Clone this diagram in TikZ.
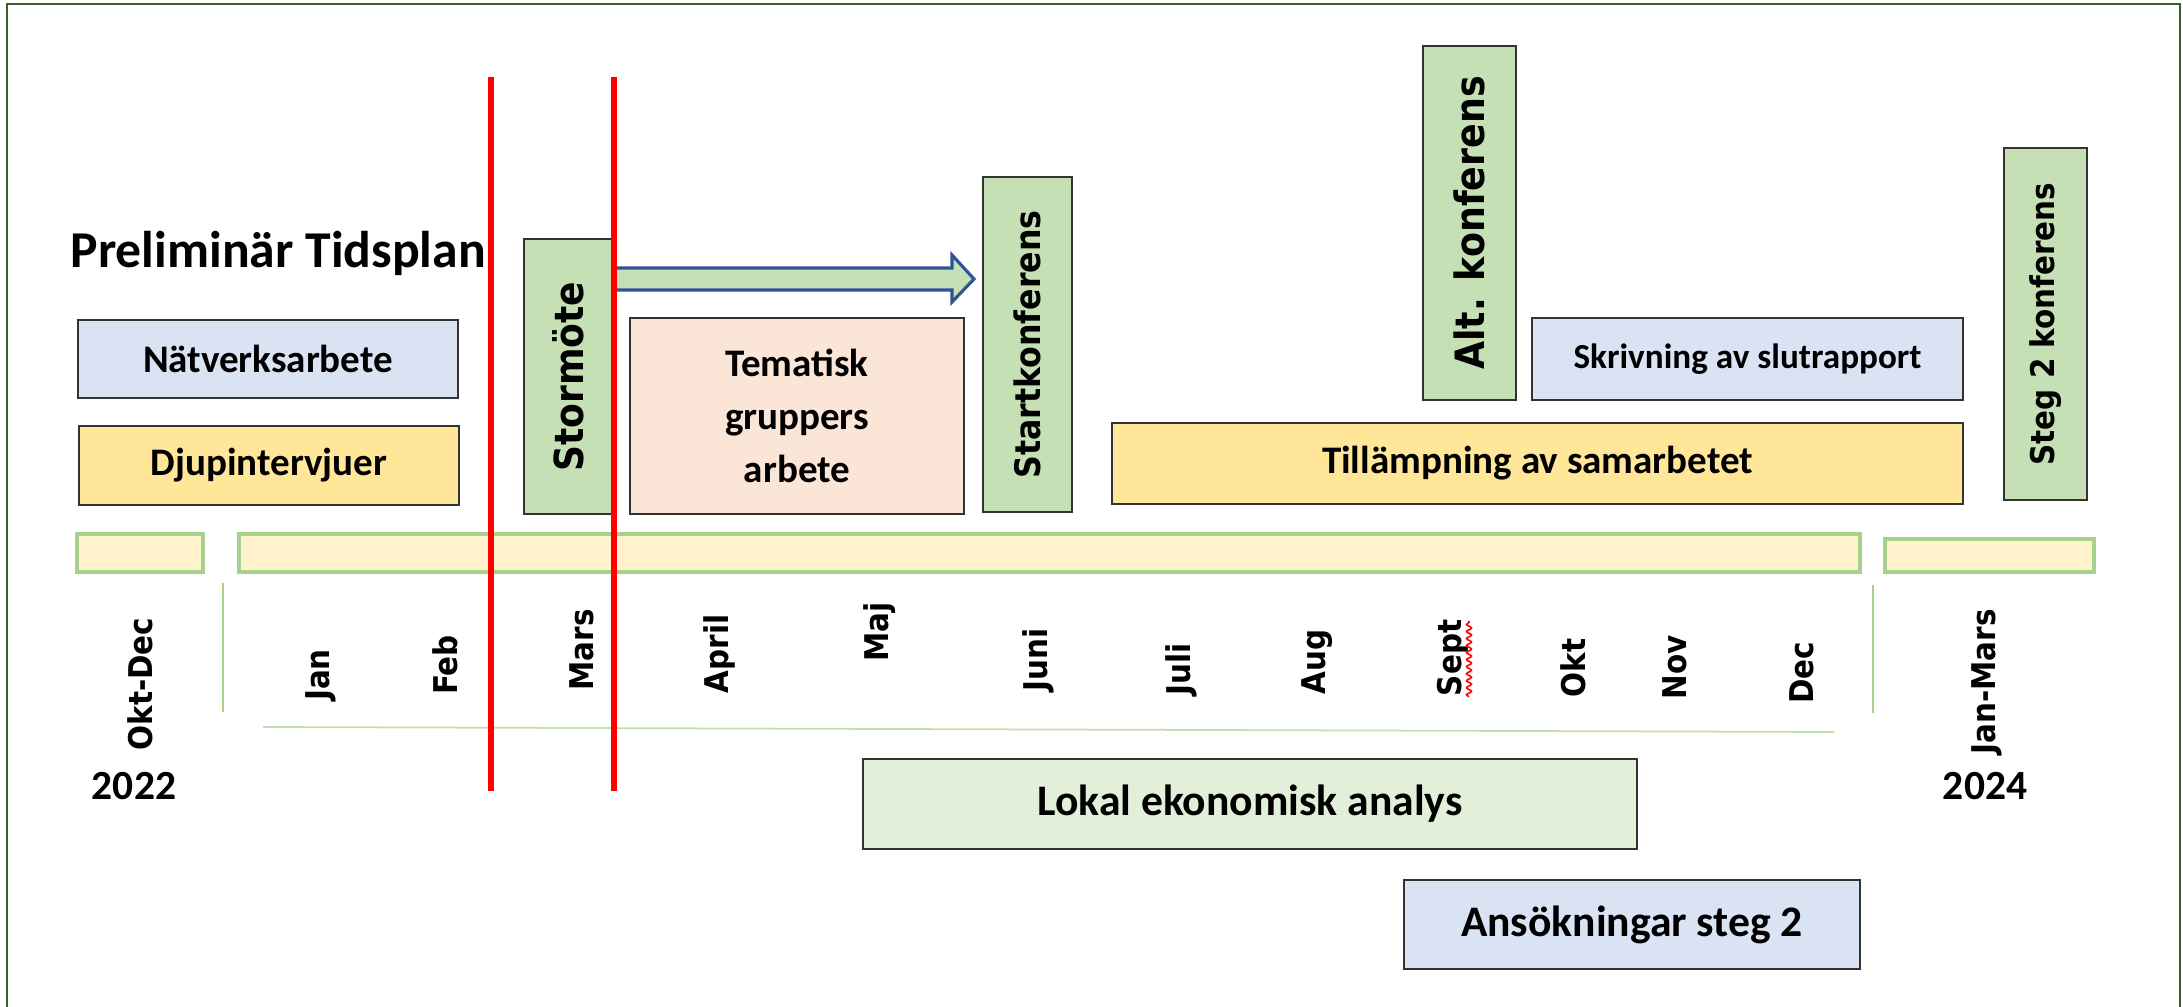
\documentclass[tikz,border=0pt]{standalone}
\usepackage{fontspec}
\setmainfont{Carlito}
\newfontfamily\verd{DejaVu Sans Condensed Bold}
\usetikzlibrary{calc,decorations.pathmorphing}

\definecolor{blaa}{HTML}{DAE3F3}
\definecolor{gul}{HTML}{FFE699}
\definecolor{gron}{HTML}{C5E0B4}
\definecolor{ljusgron}{HTML}{E2F0D9}
\definecolor{rosa}{HTML}{FBE5D6}
\definecolor{stapelfarg}{HTML}{FFF2CC}
\definecolor{stapelkant}{HTML}{A9D18E}
\definecolor{pilkant}{HTML}{2F5597}
\definecolor{ram}{HTML}{3B5E2B}

\tikzset{
  ruta/.style={draw=black!80, line width=0.6pt, inner sep=0pt, align=center,
    font=\bfseries\fontsize{11.1}{15}\selectfont},
  staende/.style={ruta, rotate=90},
  stapel/.style={draw=stapelkant, fill=stapelfarg, line width=1.1pt},
  tunn/.style={draw=stapelkant, line width=0.5pt},
  manad/.style={rotate=90, inner sep=0pt, font=\verd\fontsize{9.3}{11}\selectfont},
  ar/.style={inner sep=0pt, font=\bfseries\fontsize{11.8}{13}\selectfont},
  pil/.style={fill=gron, draw=pilkant, line width=0.9pt}
}

\begin{document}
\begin{tikzpicture}[x=0.01cm, y=-0.01cm]
\useasboundingbox (0,0) rectangle (2183,1007);

% Ram runt allt
\draw[ram, line width=0.7pt] (7,1007) -- (7,4) -- (2180,4) -- (2180,1007);

% Rubrik
\node[anchor=base west, inner sep=0pt, font=\bfseries\fontsize{14.7}{17}\selectfont] (rubrik) at (70,268) {Preliminär Tidsplan};

% Tidsaxel (staplar)
\filldraw[stapel] (77,534) rectangle (203,572);
\filldraw[stapel] (239,534) rectangle (1860,572);
\filldraw[stapel] (1885,539) rectangle (2094,572);

\draw[tunn] (223,583) -- (223,712);
\draw[tunn] (1873,585) -- (1873,713);
\draw[tunn, draw=gron!90!stapelkant] (263,727) -- (1834,732);

% Aktiviteter
\node[ruta, fill=blaa, minimum width=3.8cm, minimum height=0.78cm] (natverk) at (268,359) {Nätverksarbete};
\node[ruta, fill=gul, minimum width=3.8cm, minimum height=0.79cm] (djup) at (269,465.5) {Djupintervjuer};
\node[staende, fill=gron, minimum width=2.75cm, minimum height=0.88cm, font=\verd\fontsize{11.4}{13}\selectfont] (stormote) at (568,376.5) {Stormöte};
\node[ruta, fill=rosa, minimum width=3.34cm, minimum height=1.96cm] (tematisk) at (797,416) {Tematisk\\gruppers\\arbete};
\node[staende, fill=gron, minimum width=3.35cm, minimum height=0.89cm, font=\verd\fontsize{10}{12}\selectfont] (startk) at (1027.5,344.5) {Startkonferens};
\node[ruta, fill=gul, minimum width=8.51cm, minimum height=0.81cm] (tillamp) at (1537.5,463.5) {Tillämpning av samarbetet};
\node[staende, fill=gron, minimum width=3.54cm, minimum height=0.93cm, font=\verd\fontsize{11.5}{13}\selectfont] (altk) at (1469.5,223) {Alt. konferens};
\node[ruta, fill=blaa, minimum width=4.31cm, minimum height=0.82cm, font=\bfseries\fontsize{10}{12}\selectfont] (skrivning) at (1747.5,359) {Skrivning av slutrapport};
\node[staende, fill=gron, minimum width=3.52cm, minimum height=0.83cm, font=\verd\fontsize{9.3}{11}\selectfont] (steg2k) at (2045.5,324) {Steg 2 konferens};
\node[ruta, fill=ljusgron, minimum width=7.74cm, minimum height=0.9cm, font=\bfseries\fontsize{12.4}{14}\selectfont] (lokal) at (1250,804) {Lokal ekonomisk analys};
\node[ruta, fill=blaa, minimum width=4.56cm, minimum height=0.89cm, font=\bfseries\fontsize{12.4}{14}\selectfont] (ansok) at (1632,924.5) {Ansökningar steg 2};

% Pil fran stormotet till startkonferensen
\coordinate (pilstart) at (615,279);
\coordinate (pilspets) at (974,279);
\filldraw[pil] ($(pilstart)+(0,-11)$) -- ($(pilspets)+(-22,-11)$) -- ($(pilspets)+(-22,-24)$) -- (pilspets)
  -- ($(pilspets)+(-22,23)$) -- ($(pilspets)+(-22,11)$) -- ($(pilstart)+(0,11)$) -- cycle;

% Manader
\node[manad] (okt-dec) at (140,684) {Okt-Dec};
\node[manad] (jan) at (321,675) {Jan};
\node[manad] (feb) at (445,665) {Feb};
\node[manad] (mars) at (582,650) {Mars};
\node[manad] (april) at (719,654) {April};
\node[manad] (maj) at (880,632) {Maj};
\node[manad] (juni) at (1038,660) {Juni};
\node[manad] (juli) at (1181,669) {Juli};
\node[manad] (aug) at (1317,662) {Aug};
\node[manad] (sept) at (1453,658) {Sept};
\node[manad] (okt) at (1573,668) {Okt};
\node[manad] (nov) at (1675,667) {Nov};
\node[manad] (dec) at (1802,673) {Dec};
\node[manad] (jan-mars) at (1987,682) {Jan-Mars};

% stavningskontrollens rod vagig linje
\draw[red, line width=0.45pt, decorate, decoration={snake, amplitude=0.7pt, segment length=2pt}] (1469,697) -- (1469,621);

% Ar
\node[ar] (ar2022) at (134,786) {2022};
\node[ar] (ar2024) at (1985,786) {2024};

% Roda linjer
\draw[red, line width=1.8pt] (491,77) -- (491,791);
\draw[red, line width=1.8pt] (614,77) -- (614,791);

\end{tikzpicture}
\end{document}
